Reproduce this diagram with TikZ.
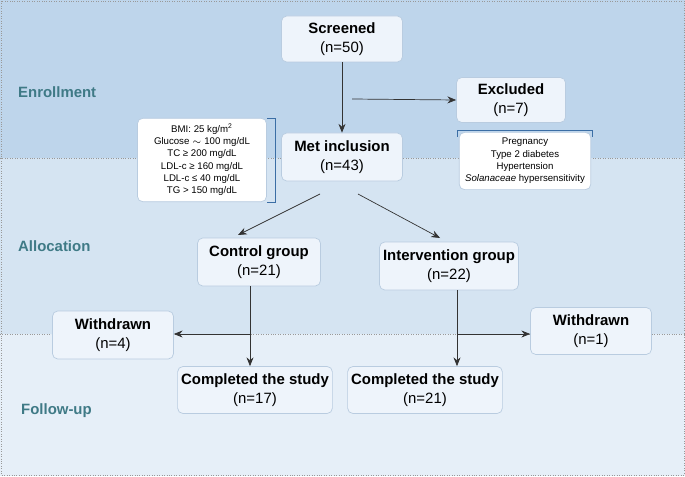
\documentclass[tikz,border=0pt]{standalone}
\usepackage{fontspec}
\setmainfont{Liberation Sans}
\usetikzlibrary{arrows.meta,positioning}
\definecolor{bandA}{HTML}{BED5EB}
\definecolor{bandB}{HTML}{D5E4F2}
\definecolor{bandC}{HTML}{E6EFF8}
\definecolor{boxfill}{HTML}{EEF4FB}
\definecolor{boxline}{HTML}{B9CCE0}
\definecolor{phase}{HTML}{3F7A86}
\definecolor{brack}{HTML}{3B6EA5}
\tikzset{
    % arrow tip
    >={Stealth[length=5pt,width=4pt]},
    % boxes of the flow
    stage/.style={
           rectangle,
           rounded corners=3pt,
           draw=boxline, thin,
           fill=boxfill,
           align=center,
           font=\fontsize{8.5}{11}\selectfont,
           inner sep=2pt},
    crit/.style={
           rectangle,
           rounded corners=3pt,
           draw=boxline, thin,
           fill=white,
           align=center,
           font=\fontsize{5.5}{7}\selectfont},
    phase/.style={font=\bfseries\fontsize{8.5}{10}\selectfont, text=phase, anchor=west},
    flow/.style={->, thin, black!80},
    band/.style={draw=black!40, densely dotted, thin}
}
\begin{document}
\begin{tikzpicture}[x=0.02cm,y=-0.02cm]
\useasboundingbox (0,0) rectangle (685,476);
% background bands
\fill[bandA] (0,0) rectangle (685,158);
\fill[bandB] (0,158) rectangle (685,334);
\fill[bandC] (0,334) rectangle (685,476);
\draw[band] (1,1) rectangle (684,475);
\draw[band] (0,158) -- (685,158);
\draw[band] (0,334) -- (685,334);
% phase labels
\node[phase] (enroll) at (12,92) {Enrollment};
\node[phase] (alloc) at (12,246) {Allocation};
\node[phase] (follow) at (15,411) {Follow-up};
% boxes
\node[stage, minimum width=121*0.02cm, minimum height=46*0.02cm] (screen) at (342,39) {\textbf{Screened}\\(n=50)};
\node[stage, minimum width=109*0.02cm, minimum height=45*0.02cm] (excl) at (511,100) {\textbf{Excluded}\\(n=7)};
\node[stage, minimum width=121*0.02cm, minimum height=48*0.02cm] (met) at (342,157) {\textbf{Met inclusion}\\(n=43)};
\node[crit, minimum width=129*0.02cm, minimum height=64*0.02cm] (incl) at (202,160) {BMI: 25 kg/m\textsuperscript{2}\\Glucose $\sim$ 100 mg/dL\\TC ≥ 200 mg/dL\\LDL-c ≥ 160 mg/dL\\LDL-c ≤ 40 mg/dL\\TG > 150 mg/dL};
\node[crit, minimum width=129*0.02cm, minimum height=53*0.02cm] (excrit) at (525,161) {Pregnancy\\Type 2 diabetes\\Hypertension\\\textit{Solanaceae} hypersensitivity};
\node[stage, minimum width=123*0.02cm, minimum height=48*0.02cm] (ctrl) at (259,262) {\textbf{Control group}\\(n=21)};
\node[stage, minimum width=129*0.02cm, minimum height=48*0.02cm] (inter) at (449,266) {\textbf{Intervention group}\\(n=22)};
\node[stage, minimum width=121*0.02cm, minimum height=48*0.02cm] (wdl) at (113,335) {\textbf{Withdrawn}\\(n=4)};
\node[stage, minimum width=121*0.02cm, minimum height=47*0.02cm] (wdr) at (591,331) {\textbf{Withdrawn}\\(n=1)};
\node[stage, minimum width=125*0.02cm, minimum height=47*0.02cm] (compl) at (255,390) {\textbf{Completed the study}\\(n=17)};
\node[stage, minimum width=121*0.02cm, minimum height=47*0.02cm] (compr) at (425,390) {\textbf{Completed the study}\\(n=21)};
% brackets
\draw[brack, thin] (267,118) -- (275,118) -- (275,202) -- (267,202);
\draw[brack, thin] (457,137) -- (457,130) -- (592,130) -- (592,137);
% connectors
\coordinate (split) at (352,99);
\coordinate (metl) at (320,194);
\coordinate (metr) at (358,194);
\coordinate (ctrlsplit) at (250,334);
\coordinate (intsplit) at (457,334);
\draw[flow] (screen) -- (met);
\draw[flow] (split) -- (excl.west);
\draw[flow] (metl) -- (238,235);
\draw[flow] (metr) -- (440,238);
\draw[flow] (ctrl.south -| ctrlsplit) -- (compl.north -| ctrlsplit);
\draw[flow] (ctrlsplit) -- (wdl.east |- ctrlsplit);
\draw[flow] (inter.south -| intsplit) -- (compr.north -| intsplit);
\draw[flow] (intsplit) -- (wdr.west |- intsplit);
\end{tikzpicture}
\end{document}
